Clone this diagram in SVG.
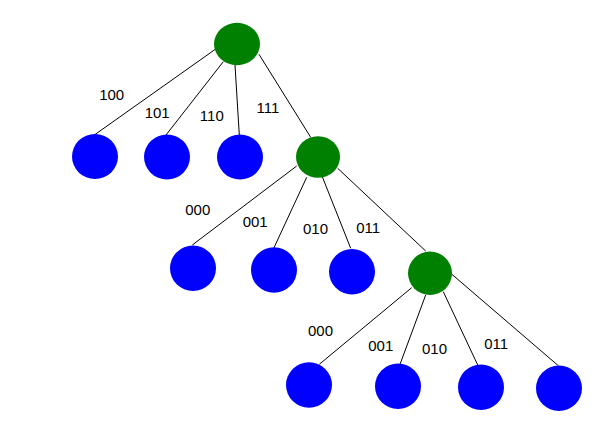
<svg xmlns="http://www.w3.org/2000/svg" width="611" height="422" viewBox="0 0 611 422">
<style>
.e{stroke:#000;stroke-width:1;fill:none}
.g{fill:#008000}
.b{fill:#0000FF}
.t{font-family:"Liberation Sans",Arial,sans-serif;font-size:15px;fill:#000;text-anchor:middle}
</style>
<rect width="611" height="422" fill="#fff"/>
<g id="connectors">
<line class="e" x1="216.7" y1="48.3" x2="94.3" y2="135"/>
<line class="e" x1="223.3" y1="61.7" x2="166" y2="135"/>
<line class="e" x1="235" y1="65" x2="239.3" y2="135"/>
<line class="e" x1="259" y1="54.3" x2="310.7" y2="137.3"/>
<line class="e" x1="296.7" y1="166" x2="192.3" y2="245"/>
<line class="e" x1="306.7" y1="177.3" x2="274" y2="247.7"/>
<line class="e" x1="322.3" y1="176.7" x2="350.7" y2="248.3"/>
<line class="e" x1="337.7" y1="168.3" x2="425.7" y2="251"/>
<line class="e" x1="411.7" y1="287.7" x2="319.3" y2="364.3"/>
<line class="e" x1="425.7" y1="295" x2="400" y2="364.3"/>
<line class="e" x1="443.3" y1="291.7" x2="477.7" y2="365"/>
<line class="e" x1="450.7" y1="273.3" x2="558.3" y2="365.7"/>
</g>
<g id="labels">
<text class="t" x="111.7" y="100">100</text>
<text class="t" x="157.2" y="118.3">101</text>
<text class="t" x="211.8" y="120.7">110</text>
<text class="t" x="268" y="113.3">111</text>
<text class="t" x="197.8" y="215">000</text>
<text class="t" x="255.2" y="226.7">001</text>
<text class="t" x="315.5" y="234">010</text>
<text class="t" x="368.2" y="233.3">011</text>
<text class="t" x="320.5" y="335.7">000</text>
<text class="t" x="380.8" y="351">001</text>
<text class="t" x="434.5" y="354.3">010</text>
<text class="t" x="496.2" y="349">011</text>
</g>
<g id="root"><ellipse class="g" cx="237" cy="44" rx="23" ry="21.2"/></g>
<g id="n100"><ellipse class="b" cx="95" cy="156.5" rx="23" ry="22.5"/></g>
<g id="n101"><ellipse class="b" cx="167" cy="157" rx="23" ry="22.5"/></g>
<g id="n110"><ellipse class="b" cx="240" cy="157" rx="23" ry="22.5"/></g>
<g id="n111"><ellipse class="g" cx="318" cy="157" rx="22" ry="20.8"/></g>
<g id="n111000"><ellipse class="b" cx="193" cy="268.3" rx="23" ry="22.7"/></g>
<g id="n111001"><ellipse class="b" cx="274" cy="270" rx="23" ry="22.7"/></g>
<g id="n111010"><ellipse class="b" cx="352" cy="271.7" rx="23" ry="22.7"/></g>
<g id="n111011"><ellipse class="g" cx="430" cy="273.3" rx="22" ry="21.7"/></g>
<g id="n111011000"><ellipse class="b" cx="309" cy="385" rx="23" ry="22.7"/></g>
<g id="n111011001"><ellipse class="b" cx="398" cy="386.3" rx="23" ry="22.7"/></g>
<g id="n111011010"><ellipse class="b" cx="481" cy="387.2" rx="23" ry="22.8"/></g>
<g id="n111011011"><ellipse class="b" cx="559" cy="388.3" rx="23" ry="22.7"/></g>
</svg>
